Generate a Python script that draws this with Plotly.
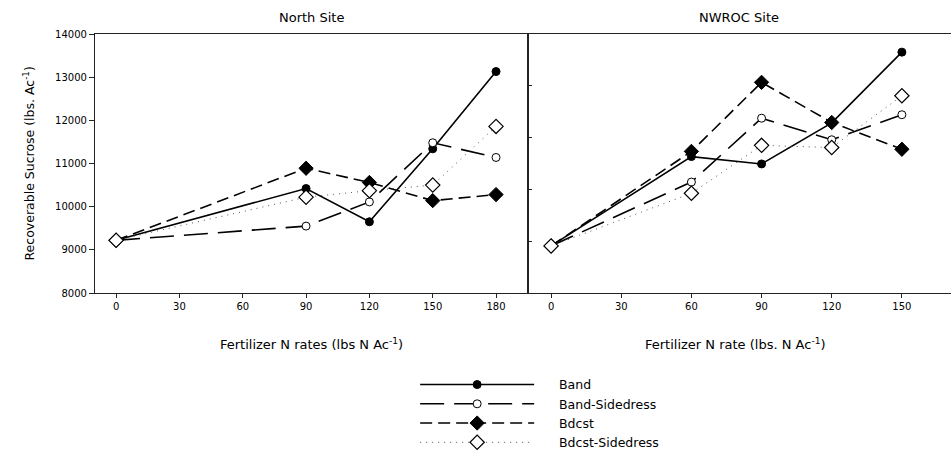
import plotly.graph_objects as go

# ---- data ----
north_rates = [0, 90, 120, 150, 180]
nwroc_rates = [0, 60, 90, 120, 150]

north_band = [9220, 10420, 9650, 11340, 13130]
north_band_side = [9220, 9550, 10110, 11480, 11140]
north_bdcst = [9220, 10890, 10560, 10140, 10280]
north_bdcst_side = [9220, 10220, 10370, 10500, 11860]

nwroc_band = [9090, 11160, 10990, 11940, 13580]
nwroc_band_side = [9090, 10570, 12050, 11550, 12130]
nwroc_bdcst = [9090, 11280, 12880, 11950, 11330]
nwroc_bdcst_side = [9090, 10310, 11420, 11370, 12570]

series_names = ["Band", "Band-Sidedress", "Bdcst", "Bdcst-Sidedress"]
north_vals = [north_band, north_band_side, north_bdcst, north_bdcst_side]
nwroc_vals = [nwroc_band, nwroc_band_side, nwroc_bdcst, nwroc_bdcst_side]

y_ticks = [8000, 9000, 10000, 11000, 12000, 13000, 14000]
y_ticktext = ["8000", "9000", "10000", "11000", "12000", "13000", "14000"]
north_xticks = [0, 30, 60, 90, 120, 150, 180]
nwroc_xticks = [0, 30, 60, 90, 120, 150]
nwroc_yticks = [9200, 10400, 11600, 12800]

# ---- styles ----
styles = [
    dict(line=dict(color="black", width=1.6, dash="solid"),
         marker=dict(symbol="circle", size=8, color="black", line=dict(color="black", width=1))),
    dict(line=dict(color="black", width=1.6, dash="24px,10px"),
         marker=dict(symbol="circle", size=8, color="white", line=dict(color="black", width=1))),
    dict(line=dict(color="black", width=1.6, dash="12px,6px"),
         marker=dict(symbol="diamond", size=11, color="black", line=dict(color="black", width=1))),
    dict(line=dict(color="#555555", width=1, dash="1px,5px"),
         marker=dict(symbol="diamond", size=11, color="white", line=dict(color="black", width=1.2))),
]

FONT = "DejaVu Sans, Liberation Sans, Arial, sans-serif"
AX = "#222222"
PAD = "\u00a0" * 5

fig = go.Figure()
for name, vals, st in zip(series_names, north_vals, styles):
    fig.add_trace(go.Scatter(x=north_rates, y=vals, name=PAD + name, mode="lines+markers",
                             legendgroup=name, xaxis="x", yaxis="y", **st))
for name, vals, st in zip(series_names, nwroc_vals, styles):
    fig.add_trace(go.Scatter(x=nwroc_rates, y=vals, name=name, mode="lines+markers",
                             legendgroup=name, showlegend=False, xaxis="x2", yaxis="y2", **st))

split = 432.7 / 856

fig.update_layout(
    width=951, height=451,
    margin=dict(l=95, r=0, t=34, b=158, autoexpand=False),
    paper_bgcolor="white", plot_bgcolor="white",
    font=dict(family=FONT, color="black", size=10),
    xaxis=dict(domain=[0, split], range=[-10, 195], tickvals=north_xticks,
               showline=True, mirror=True, linecolor=AX, linewidth=1.2,
               ticks="outside", ticklen=4, tickcolor=AX, showgrid=False, zeroline=False,
               tickfont=dict(size=10)),
    yaxis=dict(domain=[0, 1], range=[8000, 14000], tickvals=y_ticks, ticktext=y_ticktext,
               showline=True, mirror=True, linecolor=AX, linewidth=1.2,
               ticks="outside", ticklen=5, tickcolor=AX, showgrid=False, zeroline=False,
               tickfont=dict(size=10)),
    yaxis3=dict(overlaying="y", anchor="x", side="right", range=[8000, 14000],
                tickvals=y_ticks[1:-1], ticks="inside", ticklen=4, tickcolor=AX,
                showticklabels=False, showline=False, showgrid=False, zeroline=False),
    xaxis2=dict(domain=[split, 1], range=[-10, 171], tickvals=nwroc_xticks, anchor="y2",
                showline=True, mirror=True, linecolor=AX, linewidth=1.2,
                ticks="outside", ticklen=4, tickcolor=AX, showgrid=False, zeroline=False,
                tickfont=dict(size=10)),
    yaxis2=dict(domain=[0, 1], range=[8000, 14000], anchor="x2", tickvals=nwroc_yticks,
                showline=True, linecolor=AX, linewidth=1.2, ticks="inside", ticklen=4,
                tickcolor=AX, showticklabels=False, showgrid=False, zeroline=False),
    legend=dict(x=0.374, y=-0.297, xanchor="left", yanchor="top",
                itemwidth=114, font=dict(size=12.5), bgcolor="rgba(0,0,0,0)",
                tracegroupgap=0),
    showlegend=True,
)

annotations = [
    dict(text="North Site", x=split / 2, y=1.065, xref="paper", yref="paper",
         showarrow=False, font=dict(size=13), xanchor="center", yanchor="middle"),
    dict(text="NWROC Site", x=(split + 1) / 2, y=1.065, xref="paper", yref="paper",
         showarrow=False, font=dict(size=13), xanchor="center", yanchor="middle"),
    dict(text="Fertilizer N rates (lbs N Ac<sup>-1</sup>)", x=split / 2, y=-0.195,
         xref="paper", yref="paper", showarrow=False, font=dict(size=13),
         xanchor="center", yanchor="middle"),
    dict(text="Fertilizer N rate (lbs. N Ac<sup>-1</sup>)", x=(split + 1) / 2 - 0.005, y=-0.195,
         xref="paper", yref="paper", showarrow=False, font=dict(size=13),
         xanchor="center", yanchor="middle"),
    dict(text="Recoverable Sucrose (lbs. Ac<sup>-1</sup>)", x=-67 / 856, y=0.5,
         xref="paper", yref="paper", showarrow=False, font=dict(size=12.5),
         textangle=-90, xanchor="center", yanchor="middle"),
]
fig.update_layout(annotations=annotations)

post = (
    "document.documentElement.style.margin='0';"
    "document.documentElement.style.overflow='hidden';"
    "document.body.style.margin='0';"
    "document.body.style.padding='0';"
    "document.body.style.overflow='hidden';"
    "var gd=document.getElementById('{plot_id}');"
    "Plotly.relayout(gd,{width:951,height:451});"
)

fig.write_html("out.html", post_script=post,
               config={"responsive": False, "displayModeBar": False})
